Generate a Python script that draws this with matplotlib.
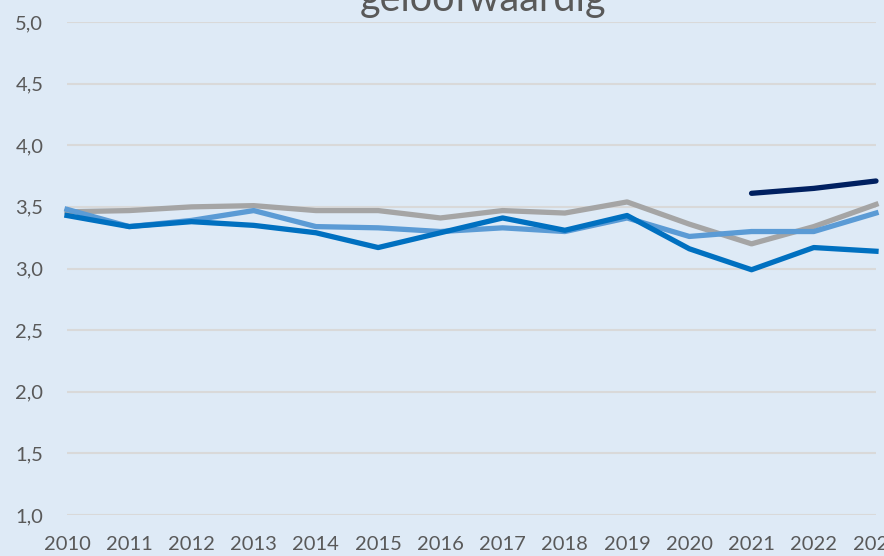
import matplotlib
matplotlib.use("Agg")
import matplotlib.pyplot as plt
from matplotlib.ticker import FuncFormatter

# data
years = list(range(2010, 2024))
year_labels = [str(y) for y in years]
grey_series = [3.46, 3.47, 3.50, 3.51, 3.47, 3.47, 3.41, 3.47, 3.45, 3.54, 3.36, 3.20, 3.34, 3.52]
light_blue_series = [3.48, 3.34, 3.39, 3.47, 3.34, 3.33, 3.30, 3.33, 3.30, 3.41, 3.26, 3.30, 3.30, 3.45]
blue_series = [3.43, 3.34, 3.38, 3.35, 3.29, 3.17, 3.29, 3.41, 3.31, 3.43, 3.16, 2.99, 3.17, 3.14]
navy_years = [2021, 2022, 2023]
navy_series = [3.61, 3.65, 3.71]
y_ticks = [1.0, 1.5, 2.0, 2.5, 3.0, 3.5, 4.0, 4.5, 5.0]

bg = "#DEEAF6"
text_col = "#595959"
plt.rcParams["font.family"] = ["Lato", "DejaVu Sans"]

fig = plt.figure(figsize=(8.84, 5.56), dpi=100, facecolor=bg)
ax = fig.add_axes([67 / 884, 1 - 515 / 556, (876 - 67) / 884, (515 - 22) / 556])
ax.set_facecolor(bg)

lw = 3.8
ax.plot(years, grey_series, color="#A5A5A5", lw=lw, clip_on=False, zorder=3)
ax.plot(years, light_blue_series, color="#5B9BD5", lw=lw, clip_on=False, zorder=4)
ax.plot(years, blue_series, color="#0070C0", lw=lw, clip_on=False, zorder=5)
ax.plot(navy_years, navy_series, color="#002060", lw=lw, clip_on=False, zorder=6,
        solid_capstyle="round")

ax.set_xlim(2010, 2023)
ax.set_ylim(1.0, 5.0)
ax.set_yticks(y_ticks)
ax.yaxis.set_major_formatter(FuncFormatter(lambda v, p: f"{v:.1f}".replace(".", ",")))
ax.set_xticks(years)
ax.set_xticklabels(year_labels)
ax.grid(axis="y", color="#D9D9D9", lw=1.5)
ax.set_axisbelow(True)
for s in ax.spines.values():
    s.set_visible(False)
ax.tick_params(axis="both", length=0, labelsize=14.5, colors=text_col)
ax.tick_params(axis="y", pad=17)
ax.tick_params(axis="x", pad=15)

fig.text(0.546, 1 - 11 / 556, "geloofwaardig", ha="center", va="baseline", fontsize=28.5,
         color=text_col)

fig.savefig("out.png", dpi=100, facecolor=bg)
